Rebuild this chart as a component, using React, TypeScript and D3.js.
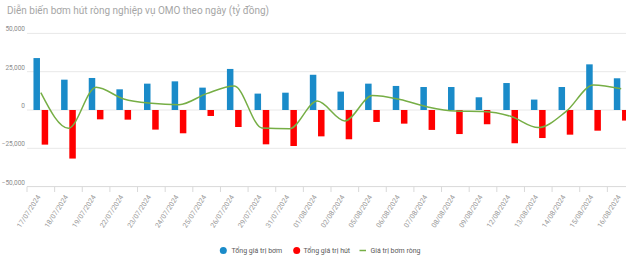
import React from "react";
import * as d3 from "d3";

const categories = [
  "17/07/2024", "18/07/2024", "19/07/2024", "22/07/2024", "23/07/2024", "24/07/2024",
  "25/07/2024", "26/07/2024", "29/07/2024", "31/07/2024", "01/08/2024", "02/08/2024",
  "05/08/2024", "06/08/2024", "07/08/2024", "08/08/2024", "09/08/2024", "12/08/2024",
  "13/08/2024", "14/08/2024", "15/08/2024", "16/08/2024",
];
const pumpValues = [
  33900, 19800, 20900, 13500, 17200, 18700, 14600, 26800, 10700, 11300, 23000,
  12000, 17200, 15700, 15000, 15000, 8300, 17600, 6800, 15000, 29800, 20700,
];
const withdrawValues = [
  -22600, -31700, -6100, -6300, -12800, -15200, -3900, -11100, -22400, -23500, -17200,
  -19100, -7800, -8900, -13000, -15700, -9300, -21700, -18300, -16100, -13500, -6900,
];
const netValues = [
  11300, -11900, 14800, 7200, 4400, 3500, 10700, 15700, -11700, -12200, 5800,
  -7100, 9400, 6800, 2000, -700, -1000, -4100, -11500, -1100, 16300, 13800,
];
const yTicks = [50000, 25000, 0, -25000, -50000];
const legendLabels = ["Tổng giá trị bơm", "Tổng giá trị hút", "Giá trị bơm ròng"];
const title = "Diễn biến bơm hút ròng nghiệp vụ OMO theo ngày (tỷ đồng)";

const BLUE = "#1a8bc9";
const RED = "#ff0000";
const GREEN = "#76ae45";

export default function App() {
  const W = 626, H = 262;
  const x = d3.scaleBand<string>().domain(categories).range([27, 635]).padding(0);
  const y = d3.scaleLinear().domain([-50000, 50000]).range([186.6, 33.4]);
  const bw = 6.5, gap = 1.7;
  const fmt = d3.format(",");
  const line = d3
    .line<number>()
    .x((_, i) => (x(categories[i]) as number) + x.bandwidth() / 2)
    .y((d) => y(d))
    .curve(d3.curveMonotoneX);
  const font = "Roboto, Arial, sans-serif";

  return (
    <svg
      width={W}
      height={H}
      style={{ position: "absolute", left: 0, top: 0, background: "#fff" }}
      fontFamily={font}
    >
      <rect width={W} height={H} fill="#fff" />
      <text x={7} y={14} fontSize={11.5} fill="#a6a6a6" textLength={262} lengthAdjust="spacingAndGlyphs">
        {title}
      </text>
      {yTicks.map((t) => (
        <g key={t}>
          <line x1={27} x2={W} y1={y(t)} y2={y(t)} stroke={t === -50000 ? "#d9d9d9" : "#e8e8e8"} strokeWidth={1} />
          <text x={25} y={y(t) - 2} fontSize={6.5} fill="#8c8c8c" textAnchor="end">
            {fmt(t)}
          </text>
        </g>
      ))}
      {categories.map((c, i) => (
        <line key={"tk" + i} x1={x(c)} x2={x(c)} y1={186.6} y2={192} stroke="#d9d9d9" />
      ))}
      {categories.map((c, i) => {
        const cx = (x(c) as number) + x.bandwidth() / 2;
        return (
          <g key={"b" + i}>
            <rect x={cx - gap / 2 - bw} y={y(pumpValues[i])} width={bw} height={y(0) - y(pumpValues[i])} fill={BLUE} />
            <rect x={cx + gap / 2} y={y(0)} width={bw} height={y(withdrawValues[i]) - y(0)} fill={RED} />
          </g>
        );
      })}
      <path d={line(netValues) || ""} fill="none" stroke={GREEN} strokeWidth={1.5} />
      {categories.map((c, i) => {
        const cx = (x(c) as number) + x.bandwidth() / 2;
        return (
          <text
            key={"xl" + i}
            transform={`translate(${cx},${197}) rotate(-57)`}
            fontSize={7}
            fill="#999999"
            textAnchor="end"
          >
            {c}
          </text>
        );
      })}
      <g fontSize={7} fill="#595959">
        <circle cx={223.3} cy={250.5} r={3.5} fill={BLUE} />
        <text x={231.5} y={253}>{legendLabels[0]}</text>
        <circle cx={296.7} cy={250.5} r={3.5} fill={RED} />
        <text x={303.5} y={253}>{legendLabels[1]}</text>
        <line x1={359.5} x2={366} y1={250.5} y2={250.5} stroke={GREEN} strokeWidth={1.5} />
        <text x={370.5} y={253}>{legendLabels[2]}</text>
      </g>
    </svg>
  );
}
